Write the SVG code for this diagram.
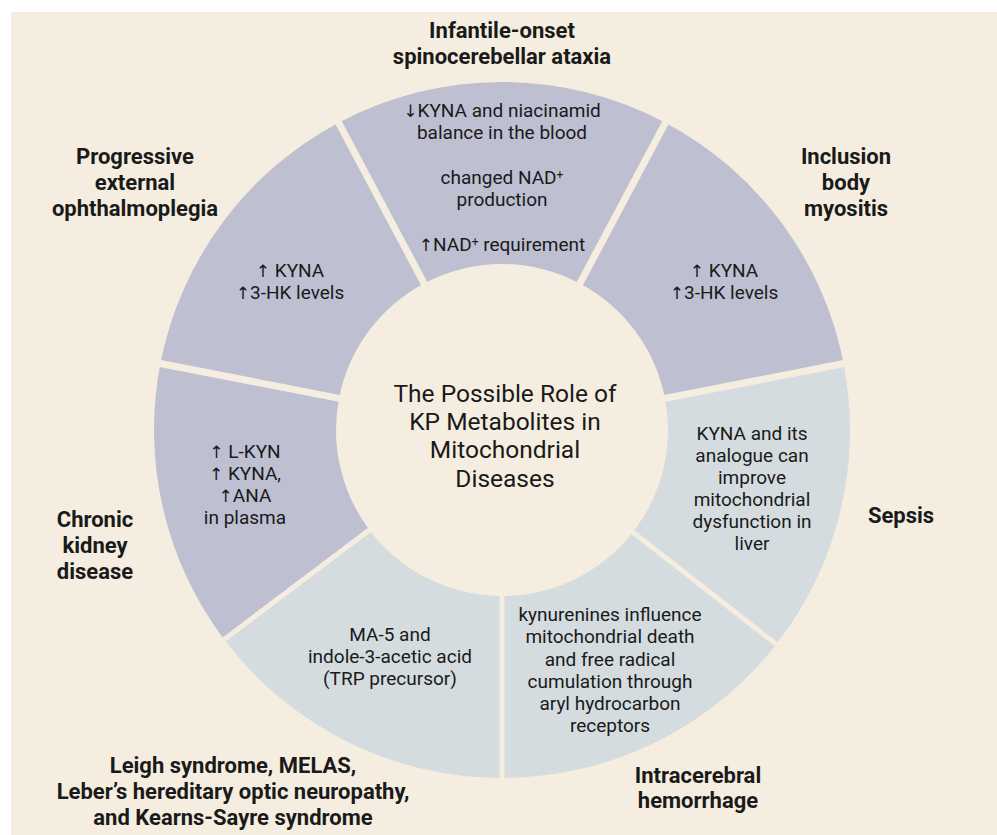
<svg xmlns="http://www.w3.org/2000/svg" width="997" height="835" viewBox="0 0 997 835">
<style>
.bg{fill:#f5eee0}
.pu{fill:#bec0d2}
.bl{fill:#d4dcdf}
.gap{stroke:#f5eee0;fill:none;stroke-linecap:butt}
text{font-family:Roboto,"Liberation Sans",sans-serif;fill:#1a1a1a;text-anchor:middle}
.s{font-size:19px}
.c{font-size:24.5px}
.b{font-size:22px;font-weight:bold}
.sup{font-size:12px}
.ar{font-family:"DejaVu Sans",sans-serif;font-size:17px}
</style>
<rect x="0" y="0" width="997" height="835" fill="#ffffff"/>
<rect class="bg" x="11" y="12" width="986" height="823"/>

<g id="infantile">
<path class="pu" d="M338.6 122.7 A348 348 0 0 1 665.4 122.7 L579.9 283.4 A166 166 0 0 0 424.1 283.4 Z"/>
<text class="s" x="502" y="117"><tspan class="ar">↓</tspan>KYNA and niacinamid</text>
<text class="s" x="502" y="139">balance in the blood</text>
<text class="s" x="502" y="184">changed NAD<tspan class="sup" baseline-shift="40%">+</tspan></text>
<text class="s" x="502" y="206">production</text>
<text class="s" x="502" y="251"><tspan class="ar">↑</tspan>NAD<tspan class="sup" baseline-shift="40%">+</tspan> requirement</text>
<text class="b" x="502" y="38">Infantile-onset</text>
<text class="b" x="502" y="64">spinocerebellar ataxia</text>
</g>

<g id="inclusion">
<path class="pu" d="M665.4 122.7 A348 348 0 0 1 843.6 363.6 L664.9 398.3 A166 166 0 0 0 579.9 283.4 Z"/>
<text class="s" x="724" y="277"><tspan class="ar">↑</tspan> KYNA</text>
<text class="s" x="724" y="299"><tspan class="ar">↑</tspan>3-HK levels</text>
<text class="b" x="846" y="164">Inclusion</text>
<text class="b" x="846" y="190">body</text>
<text class="b" x="846" y="216">myositis</text>
</g>

<g id="sepsis">
<path class="bl" d="M843.6 363.6 A348 348 0 0 1 776.2 644.3 L632.8 532.2 A166 166 0 0 0 664.9 398.3 Z"/>
<text class="s" x="752" y="440">KYNA and its</text>
<text class="s" x="752" y="462">analogue can</text>
<text class="s" x="752" y="484">improve</text>
<text class="s" x="752" y="506">mitochondrial</text>
<text class="s" x="752" y="528">dysfunction in</text>
<text class="s" x="752" y="550">liver</text>
<text class="b" x="901" y="523">Sepsis</text>
</g>

<g id="intracerebral">
<path class="bl" d="M776.2 644.3 A348 348 0 0 1 502 778 L502 596 A166 166 0 0 0 632.8 532.2 Z"/>
<text class="s" x="610" y="621">kynurenines influence</text>
<text class="s" x="610" y="643">mitochondrial death</text>
<text class="s" x="610" y="666">and free radical</text>
<text class="s" x="610" y="688">cumulation through</text>
<text class="s" x="610" y="710">aryl hydrocarbon</text>
<text class="s" x="610" y="732">receptors</text>
<text class="b" x="698" y="783">Intracerebral</text>
<text class="b" x="698" y="808">hemorrhage</text>
</g>

<g id="leigh">
<path class="bl" d="M502 778 A348 348 0 0 1 224.1 639.4 L369.4 529.9 A166 166 0 0 0 502 596 Z"/>
<text class="s" x="390" y="641">MA-5 and</text>
<text class="s" x="390" y="663">indole-3-acetic acid</text>
<text class="s" x="390" y="685">(TRP precursor)</text>
<text class="b" x="233" y="773">Leigh syndrome, MELAS,</text>
<text class="b" x="233" y="799">Leber’s hereditary optic neuropathy,</text>
<text class="b" x="233" y="825">and Kearns-Sayre syndrome</text>
</g>

<g id="chronic">
<path class="pu" d="M224.1 639.4 A348 348 0 0 1 160.4 363.6 L339.1 398.3 A166 166 0 0 0 369.4 529.9 Z"/>
<text class="s" x="245" y="458"><tspan class="ar">↑</tspan> L-KYN</text>
<text class="s" x="245" y="480"><tspan class="ar">↑</tspan> KYNA,</text>
<text class="s" x="245" y="502"><tspan class="ar">↑</tspan>ANA</text>
<text class="s" x="245" y="524">in plasma</text>
<text class="b" x="95" y="527">Chronic</text>
<text class="b" x="95" y="553">kidney</text>
<text class="b" x="95" y="579">disease</text>
</g>

<g id="progressive">
<path class="pu" d="M160.4 363.6 A348 348 0 0 1 338.6 122.7 L424.1 283.4 A166 166 0 0 0 339.1 398.3 Z"/>
<text class="s" x="290" y="277"><tspan class="ar">↑</tspan> KYNA</text>
<text class="s" x="290" y="299"><tspan class="ar">↑</tspan>3-HK levels</text>
<text class="b" x="135" y="164">Progressive</text>
<text class="b" x="135" y="190">external</text>
<text class="b" x="135" y="216">ophthalmoplegia</text>
</g>

<g id="gaps">
<line class="gap" stroke-width="7" x1="431.6" y1="297.6" x2="333.0" y2="112.1"/>
<line class="gap" stroke-width="7" x1="572.4" y1="297.6" x2="671.0" y2="112.1"/>
<line class="gap" stroke-width="7" x1="649.2" y1="401.4" x2="855.4" y2="361.3"/>
<line class="gap" stroke-width="5" x1="620.2" y1="522.3" x2="785.7" y2="651.6"/>
<line class="gap" stroke-width="5" x1="502" y1="580" x2="502" y2="790"/>
<line class="gap" stroke-width="5" x1="382.2" y1="520.3" x2="214.5" y2="646.7"/>
<line class="gap" stroke-width="7" x1="354.8" y1="401.4" x2="148.6" y2="361.3"/>
</g>

<g id="center">
<text class="c" x="505" y="402">The Possible Role of</text>
<text class="c" x="505" y="430">KP Metabolites in</text>
<text class="c" x="505" y="458">Mitochondrial</text>
<text class="c" x="505" y="487">Diseases</text>
</g>
</svg>
